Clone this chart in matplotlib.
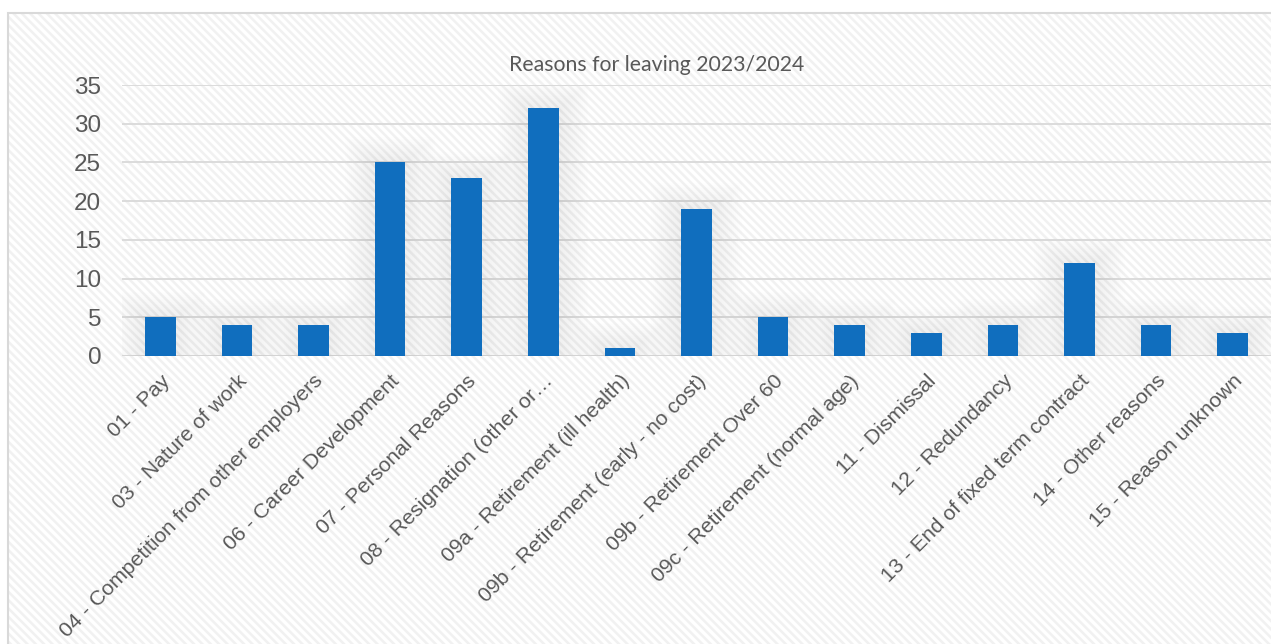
import matplotlib
matplotlib.use("Agg")
import matplotlib.pyplot as plt
from matplotlib.patches import Rectangle
import matplotlib.transforms as mtransforms
import numpy as np

categories = [
    "01 - Pay",
    "03 - Nature of work",
    "04 - Competition from other employers",
    "06 - Career Development",
    "07 - Personal Reasons",
    "08 - Resignation (other or\u2026",
    "09a - Retirement (ill health)",
    "09b - Retirement (early - no cost)",
    "09b - Retirement Over 60",
    "09c - Retirement (normal age)",
    "11 - Dismissal",
    "12 - Redundancy",
    "13 - End of fixed term contract",
    "14 - Other reasons",
    "15 - Reason unknown",
]
values = [5, 4, 4, 25, 23, 32, 1, 19, 5, 4, 3, 4, 12, 4, 3]
yticks = [0, 5, 10, 15, 20, 25, 30, 35]
title = "Reasons for leaving 2023/2024"

W, H = 1271, 644
plt.rcParams['hatch.linewidth'] = 1.8
fig = plt.figure(figsize=(W / 100, H / 100), dpi=100)
fig.patch.set_facecolor("white")

# hatched chart-area background and border
bg = Rectangle((8 / W, 0), 1.2, 1 - 13 / H, transform=fig.transFigure,
               facecolor="white", edgecolor="#f1f1f1", hatch="\\\\\\\\",
               linewidth=0, zorder=-2)
fig.patches.append(bg)
border = Rectangle((8 / W, -0.1), 1.2, 1 - 13 / H + 0.1, transform=fig.transFigure,
                   facecolor="none", edgecolor="#d9d9d9", linewidth=1.5, zorder=-1)
fig.patches.append(border)

ax = fig.add_axes([122 / W, (H - 356) / H, (1271 - 122) / W, (356 - 85) / H])
ax.patch.set_alpha(0)
x = np.arange(len(categories))
ax.set_xlim(-0.5, len(categories) - 0.5)
ax.set_ylim(0, 35)

# soft, diffuse shadow behind bars
bw = 0.40
for k in range(1, 16):
    ax.bar(x, [v + k * 0.22 for v in values], width=bw + 2 * k * 0.026,
           color="black", alpha=0.0055, linewidth=0, zorder=1.5)

ax.bar(x, values, width=bw, color="#106ebe", linewidth=0, zorder=3)

ax.set_yticks(yticks)
ax.yaxis.grid(True, color="#d9d9d9", linewidth=1.3, zorder=1)
ax.set_axisbelow(True)
for s in ax.spines.values():
    s.set_visible(False)
ax.tick_params(axis="both", length=0)
ax.tick_params(axis="y", labelsize=17.5, labelcolor="#595959", pad=15)
for lab in ax.get_yticklabels():
    lab.set_fontfamily("Liberation Sans")

ax.set_xticks(x)
ax.set_xticklabels(categories, rotation=45, ha="right", va="top",
                   rotation_mode="anchor", fontsize=15.3, color="#595959",
                   fontfamily="Liberation Sans")
ax.tick_params(axis="x", pad=11)
offset = mtransforms.ScaledTranslation(0, 0, fig.dpi_scale_trans)
for lab in ax.get_xticklabels():
    lab.set_transform(lab.get_transform() + offset)

fig.text(657 / W, 1 - 65 / H, title, ha="center", va="center",
         fontsize=15.3, color="#595959", fontfamily="Lato")

fig.savefig("out.png", dpi=100)
